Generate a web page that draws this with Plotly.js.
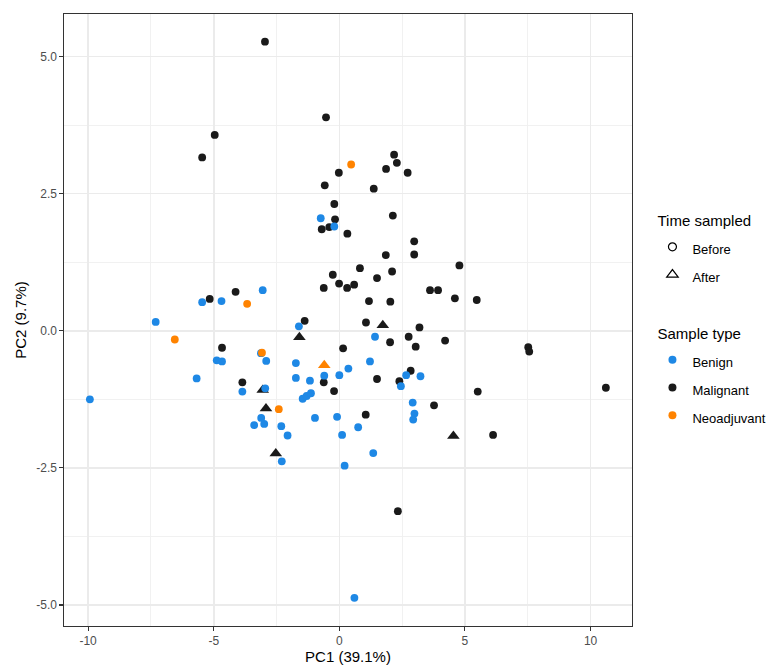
<!DOCTYPE html>
<html>
<head>
<meta charset="utf-8">
<script src="https://cdn.plot.ly/plotly-3.0.1.min.js"></script>
<style>html,body{margin:0;padding:0;background:#fff;}#chart{width:773px;height:666px;}</style>
</head>
<body>
<div id="chart"></div>
<script>
// Malignant, sampled before (circles)
const malignantBeforeX = [-2.96,-0.53,-4.96,-5.46,-0.02,-0.58,-0.20,2.18,2.29,1.86,2.72,1.37,2.13,-0.17,-0.70,-0.40,0.32,-0.26,-0.01,-0.62,0.31,-4.13,-5.16,-1.38,2.98,1.85,2.98,0.82,2.10,4.78,0.59,1.50,3.61,3.93,4.60,5.47,1.18,2.03,1.06,3.19,-4.67,-3.86,-0.62,0.15,-0.21,2.76,2.02,3.04,4.21,7.52,7.56,10.61,1.50,2.84,2.39,5.51,3.77,1.05,6.12,2.33];
const malignantBeforeY = [5.27,3.89,3.57,3.16,2.88,2.65,2.31,3.21,3.06,2.95,2.88,2.59,2.10,2.03,1.85,1.89,1.77,1.02,0.86,0.78,0.78,0.71,0.58,0.18,1.63,1.38,1.39,1.14,1.08,1.19,0.84,0.96,0.74,0.74,0.59,0.56,0.54,0.53,0.15,0.06,-0.31,-0.94,-0.94,-0.32,-1.10,-0.11,-0.21,-0.29,-0.18,-0.30,-0.38,-1.04,-0.88,-0.73,-0.92,-1.11,-1.36,-1.53,-1.90,-3.29];
// Malignant, sampled after (triangles)
const malignantAfterX = [1.73,-1.59,-3.05,-2.92,-2.53,4.54];
const malignantAfterY = [0.10,-0.12,-1.08,-1.42,-2.24,-1.92];
// Benign, sampled before (circles)
const benignBeforeX = [-0.74,-0.20,-3.05,-5.46,-4.69,-7.31,-1.61,-4.88,-4.67,-3.12,-2.91,-5.68,-3.86,-2.95,-9.93,-1.73,-1.73,-1.17,-0.60,0.00,0.36,-1.46,-1.30,-1.13,-3.11,-3.39,-2.99,-2.31,-2.06,-0.97,-0.09,0.11,-2.29,0.21,1.42,1.22,2.66,3.23,2.45,2.92,2.99,2.94,0.75,1.35,0.60];
const benignBeforeY = [2.05,1.90,0.74,0.52,0.54,0.16,0.08,-0.54,-0.56,-0.41,-0.55,-0.87,-1.11,-1.05,-1.25,-0.59,-0.86,-0.91,-0.82,-0.81,-0.69,-1.24,-1.19,-1.14,-1.59,-1.72,-1.70,-1.74,-1.91,-1.59,-1.57,-1.90,-2.38,-2.46,-0.11,-0.56,-0.81,-0.83,-1.01,-1.31,-1.51,-1.62,-1.76,-2.23,-4.87];
// Neoadjuvant, sampled before (circles)
const neoBeforeX = [0.47,-3.67,-6.55,-3.08,-2.41];
const neoBeforeY = [3.03,0.49,-0.16,-0.40,-1.43];
// Neoadjuvant, sampled after (triangles)
const neoAfterX = [-0.60];
const neoAfterY = [-0.63];

const xTickVals = [-10,-5,0,5,10];
const xTickText = ["-10","-5","0","5","10"];
const yTickVals = [-5,-2.5,0,2.5,5];
const yTickText = ["-5.0","-2.5","0.0","2.5","5.0"];

const timeLabels = ["Before","After"];
const typeLabels = ["Benign","Malignant","Neoadjuvant"];

const cBenign = "#1E88E5", cMalig = "#1A1A1A", cNeo = "#FF8300";
const FONT = "Liberation Sans, Arial, sans-serif";

function sp(t, s) { return '<span style="font-size:' + s + 'px">' + t + '</span>'; }

function pts(x, y, color, symbol) {
  const tri = symbol.indexOf("triangle") === 0;
  return {type:"scatter", mode:"markers", x:x, y:y, showlegend:false, hoverinfo:"x+y",
    marker:{color:color, size: tri ? 11 : 7.8, symbol:symbol, line:{width:0}}};
}
function leg(name, group, title, symbol, color, size, lw) {
  return {type:"scatter", mode:"markers", x:[null], y:[null], name:sp(name, 13),
    legendgroup:group,
    legendgrouptitle:{text:sp(title, 15), font:{size:22, color:"#000", family:FONT}},
    marker:{color:color, size:size, symbol:symbol, line:{width:lw, color:"#000"}}};
}

const data = [
  pts(malignantBeforeX, malignantBeforeY, cMalig, "circle"),
  pts(malignantAfterX, malignantAfterY, cMalig, "triangle-up"),
  pts(benignBeforeX, benignBeforeY, cBenign, "circle"),
  pts(neoBeforeX, neoBeforeY, cNeo, "circle"),
  pts(neoAfterX, neoAfterY, cNeo, "triangle-up"),
  leg(timeLabels[0], "time", "Time sampled", "circle-open", "#000", 8, 1.2),
  leg(timeLabels[1], "time", "Time sampled", "triangle-up-open", "#000", 10, 1.2),
  leg(typeLabels[0], "type", "Sample type", "circle", cBenign, 8, 0),
  leg(typeLabels[1], "type", "Sample type", "circle", cMalig, 8, 0),
  leg(typeLabels[2], "type", "Sample type", "circle", cNeo, 8, 0)
];

const axisCommon = {
  showline:true, mirror:true, linecolor:"#333333", linewidth:1.1,
  ticks:"outside", ticklen:3.5, tickwidth:1.1, tickcolor:"#333333",
  tickfont:{size:12, color:"#4D4D4D", family:FONT},
  showgrid:true, gridcolor:"#EBEBEB", gridwidth:1.6,
  zeroline:false, tickmode:"array"
};

const layout = {
  width:773, height:666,
  margin:{l:64, r:141, t:14, b:40, autoexpand:false},
  paper_bgcolor:"#fff", plot_bgcolor:"#fff",
  font:{family:FONT, color:"#000"},
  xaxis:Object.assign({}, axisCommon, {
    range:[-10.96, 11.65], tickvals:xTickVals, ticktext:xTickText,
    minor:{dtick:2.5, tick0:0, showgrid:true, gridcolor:"#F0F0F0", gridwidth:0.9, ticks:""},
    title:{text:"PC1 (39.1%)", font:{size:15, color:"#000", family:FONT}, standoff:4}
  }),
  yaxis:Object.assign({}, axisCommon, {
    range:[-5.383, 5.774], tickvals:yTickVals, ticktext:yTickText,
    minor:{dtick:1.25, tick0:0, showgrid:true, gridcolor:"#F0F0F0", gridwidth:0.9, ticks:""},
    title:{text:"PC2 (9.7%)", font:{size:15, color:"#000", family:FONT}, standoff:6}
  }),
  legend:{x:1.036, xanchor:"left", y:0.702, yanchor:"top", traceorder:"grouped",
    tracegroupgap:26, bgcolor:"rgba(0,0,0,0)", font:{size:19, color:"#000", family:FONT},
    itemclick:false},
  showlegend:true
};

Plotly.newPlot("chart", data, layout, {displayModeBar:false, staticPlot:true});
</script>
</body>
</html>
